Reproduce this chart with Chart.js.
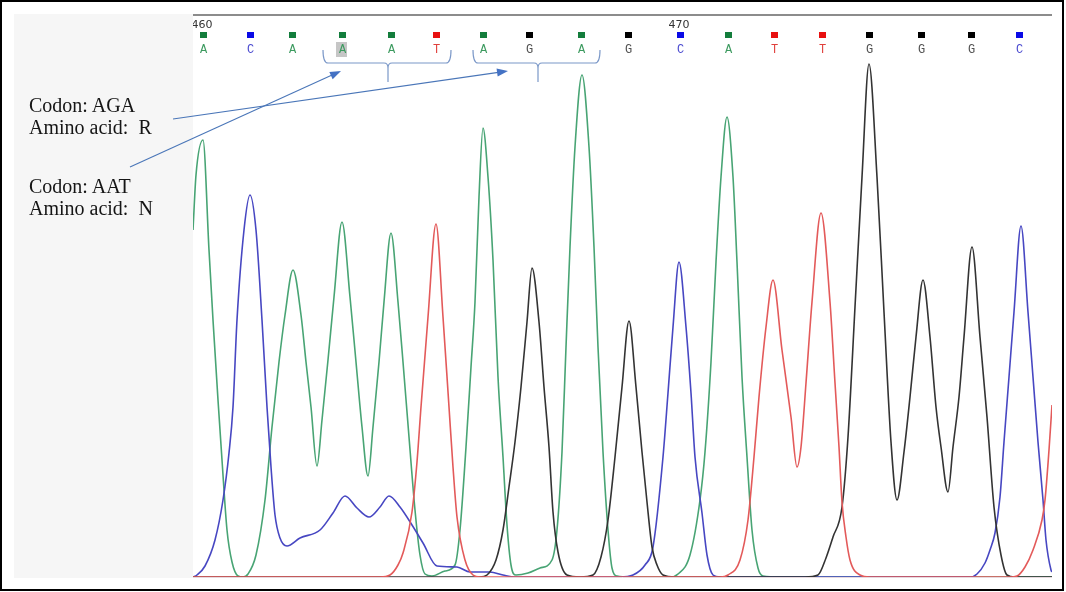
<!DOCTYPE html>
<html>
<head>
<meta charset="utf-8">
<script src="https://cdn.jsdelivr.net/npm/chart.js@4.4.1/dist/chart.umd.min.js"></script>
<style>
  html, body { margin: 0; padding: 0; background: #fff; }
  #page { position: relative; width: 1066px; height: 592px; overflow: hidden; }
  #panel { position: absolute; left: 14px; top: 14px; width: 179px; height: 564px; background: #f6f6f6; }
  #trace { position: absolute; left: 0; top: 0; }
  .note { position: absolute; left: 29px; font: 20px "Liberation Serif", "Times New Roman", serif; line-height: 22px; color: #151515; white-space: pre; }
  #frame { position: absolute; left: 0; top: 0; width: 1060px; height: 587px; border: 2px solid #000; pointer-events: none; }
</style>
</head>
<body>
<div id="page">
  <div id="panel"></div>
  <canvas id="trace" width="1066" height="592"></canvas>
  <div class="note" style="top:94px">Codon: AGA<br>Amino acid:  R</div>
  <div class="note" style="top:175px">Codon: AAT<br>Amino acid:  N</div>
  <div id="frame"></div>
</div>
<script>
// base calls (position 460 onwards) and the scan where each one was called
const firstBase = 460;
const baseCalls = ['A', 'C', 'A', 'A', 'A', 'T', 'A', 'G', 'A', 'G', 'C', 'A', 'T', 'T', 'G', 'G', 'G', 'C'];
const baseScans = [10, 57, 99, 149, 198, 243, 290, 336, 388, 435, 487, 535, 581, 629, 676, 728, 778, 826];
const tickEvery = 10;
const codonStarts = [3, 6]; // AAT (N), AGA (R)

// traces: [scan, signal]
const aTrace = [
  [0, 347], [3, 402], [10, 437], [16, 327], [20, 257], [25, 177], [29, 117], [34, 47], [39, 15], [45, 1],
  [50, 0], [55, 3], [63, 22], [72, 77], [79, 150], [86, 215], [92, 262], [100, 307], [108, 262], [113, 215],
  [118, 170], [124, 111], [129, 157], [135, 217], [141, 280], [149, 355], [157, 280], [163, 215], [169, 150],
  [175, 101], [180, 150], [186, 215], [191, 275], [198, 344], [205, 275], [210, 215], [216, 140], [222, 67],
  [227, 22], [232, 3], [239, 1], [252, 6], [262, 12], [267, 47], [273, 130], [278, 210], [282, 275],
  [286, 380], [290, 449], [295, 400], [300, 317], [305, 200], [310, 120], [314, 52], [318, 12], [323, 2],
  [335, 4], [347, 9], [359, 17], [364, 47], [369, 125], [373, 230], [377, 330], [382, 430], [389, 502],
  [396, 430], [401, 330], [405, 230], [410, 125], [415, 47], [419, 9], [424, 1], [437, 0], [477, 0],
  [485, 3], [497, 22], [507, 77], [512, 125], [518, 215], [523, 315], [528, 400], [534, 460], [540, 400],
  [544, 315], [549, 200], [554, 120], [559, 47], [565, 9], [570, 1], [587, 0], [859, 0]
];
const cTrace = [
  [0, 0], [4, 2], [12, 11], [22, 37], [30, 77], [36, 124], [40, 170], [44, 257], [51, 347], [57, 382],
  [63, 347], [69, 257], [74, 170], [78, 110], [82, 62], [87, 39], [94, 31], [107, 39], [127, 47], [140, 64],
  [152, 81], [164, 69], [176, 60], [187, 70], [196, 81], [207, 70], [219, 52], [230, 34], [244, 11],
  [264, 10], [277, 5], [297, 5], [310, 2], [322, 0], [427, 0], [440, 2], [452, 12], [460, 30], [470, 120],
  [475, 184], [480, 250], [486, 315], [493, 250], [498, 184], [502, 120], [509, 64], [514, 22], [520, 2],
  [527, 0], [777, 0], [784, 3], [792, 14], [797, 27], [802, 44], [807, 80], [811, 135], [816, 200],
  [821, 265], [828, 351], [835, 265], [840, 200], [845, 135], [850, 77], [853, 37], [858, 7], [859, 5]
];
const gTrace = [
  [0, 0], [287, 0], [294, 2], [303, 17], [310, 47], [316, 90], [322, 135], [328, 190], [334, 255], [339, 309],
  [346, 255], [351, 190], [356, 130], [360, 65], [365, 25], [374, 2], [387, 0], [400, 2], [408, 20],
  [415, 57], [422, 120], [429, 190], [436, 256], [443, 190], [449, 125], [454, 75], [459, 30], [464, 12],
  [470, 2], [482, 0], [612, 0], [625, 2], [633, 19], [640, 40], [649, 70], [655, 140], [662, 270],
  [669, 400], [676, 513], [684, 400], [691, 265], [698, 135], [704, 77], [711, 125], [717, 180], [723, 240],
  [730, 297], [737, 240], [743, 170], [748, 130], [755, 85], [760, 130], [766, 180], [771, 240], [779, 330],
  [787, 240], [794, 160], [801, 70], [808, 22], [814, 2], [822, 0], [859, 0]
];
const tTrace = [
  [0, 0], [187, 0], [197, 2], [205, 12], [210, 24], [219, 65], [224, 115], [228, 170], [235, 260], [243, 353],
  [250, 260], [256, 170], [260, 110], [264, 60], [272, 17], [280, 2], [287, 0], [527, 0], [535, 2], [547, 17],
  [555, 57], [561, 120], [566, 180], [573, 250], [580, 297], [589, 227], [598, 160], [604, 110],
  [608, 130], [613, 194], [619, 275], [628, 364], [637, 275], [642, 194], [646, 130], [649, 75], [653, 40],
  [657, 17], [667, 2], [677, 0], [817, 0], [824, 1], [832, 10], [840, 27], [849, 57], [852, 77], [856, 127],
  [859, 172]
];

const traceColor = { A: '#48a474', C: '#4747c2', G: '#333333', T: '#e35a5a' };
const boxColor = { A: '#137d3c', C: '#0a0ae6', G: '#000000', T: '#e81010' };
const letterColor = { A: '#3c9a5f', C: '#4b4bd0', G: '#505050', T: '#e0403c' };

function traceSet(base, pts) {
  return {
    label: base,
    data: pts.map(p => ({ x: p[0], y: p[1] })),
    borderColor: traceColor[base],
    borderWidth: 1.6,
    pointRadius: 0,
    fill: false,
    cubicInterpolationMode: 'monotone',
    clip: 0
  };
}

function drawArrow(ctx, x0, y0, x1, y1) {
  const a = Math.atan2(y1 - y0, x1 - x0);
  const c = Math.cos(a), s = Math.sin(a);
  ctx.beginPath();
  ctx.moveTo(x0, y0);
  ctx.lineTo(x1 - 8 * c, y1 - 8 * s);
  ctx.stroke();
  ctx.beginPath();
  ctx.moveTo(x1, y1);
  ctx.lineTo(x1 - 11 * c + 4 * s, y1 - 11 * s - 4 * c);
  ctx.lineTo(x1 - 11 * c - 4 * s, y1 - 11 * s + 4 * c);
  ctx.closePath();
  ctx.fill();
}

function drawBrace(ctx, left, right, mid, yTop, yBar, yTip) {
  ctx.beginPath();
  ctx.moveTo(left, yTop);
  ctx.quadraticCurveTo(left, yBar, left + 5, yBar);
  ctx.lineTo(mid - 4, yBar);
  ctx.quadraticCurveTo(mid, yBar, mid, yBar + 5);
  ctx.lineTo(mid, yTip);
  ctx.moveTo(mid, yBar + 5);
  ctx.quadraticCurveTo(mid, yBar, mid + 4, yBar);
  ctx.lineTo(right - 5, yBar);
  ctx.quadraticCurveTo(right, yBar, right, yTop);
  ctx.stroke();
}

const chromaPlugin = {
  id: 'chroma',
  beforeDatasetsDraw(chart) {
    const { ctx, chartArea: a, scales: { y } } = chart;
    ctx.save();
    ctx.strokeStyle = '#8c8c8c';
    ctx.lineWidth = 2;
    ctx.beginPath();
    ctx.moveTo(a.left, a.top - 1);
    ctx.lineTo(a.right, a.top - 1);
    ctx.stroke();
    const y0 = Math.round(y.getPixelForValue(0)) + 0.5;
    ctx.strokeStyle = '#e6d9de';
    ctx.lineWidth = 1;
    ctx.beginPath();
    ctx.moveTo(a.left, y0);
    ctx.lineTo(a.right, y0);
    ctx.stroke();
    ctx.restore();
  },
  afterDatasetsDraw(chart) {
    const { ctx, chartArea: a, scales: { x } } = chart;
    const px = i => Math.round(x.getPixelForValue(baseScans[i]));
    ctx.save();

    // highlighted call
    const hx = px(codonStarts[0]);
    ctx.fillStyle = '#c6c6c6';
    ctx.fillRect(hx - 6, a.top + 26, 11, 15);

    ctx.textAlign = 'center';
    ctx.textBaseline = 'middle';
    baseCalls.forEach((b, i) => {
      const bx = px(i);
      ctx.fillStyle = boxColor[b];
      ctx.fillRect(bx - 3, a.top + 16, 7, 6);
      ctx.fillStyle = letterColor[b];
      ctx.font = '12px "Liberation Mono", "DejaVu Sans Mono", monospace';
      ctx.fillText(b, bx + 0.5, a.top + 34);
    });

    // position ticks, clipped to the trace panel
    ctx.save();
    ctx.beginPath();
    ctx.rect(a.left, 0, a.right - a.left, a.bottom);
    ctx.clip();
    ctx.fillStyle = '#333';
    ctx.font = '11px "DejaVu Sans", sans-serif';
    baseCalls.forEach((b, i) => {
      const n = firstBase + i;
      if (n % tickEvery === 0) ctx.fillText(String(n), px(i) - 1, a.top + 9);
    });
    ctx.restore();

    // codon braces
    ctx.strokeStyle = '#7b98c8';
    ctx.lineWidth = 1.2;
    codonStarts.forEach((s, k) => {
      const left = px(s) - (k === 0 ? 19 : 10);
      const right = px(s + 2) + (k === 0 ? 15 : 19);
      const mid = Math.round((left + right) / 2) + 1;
      drawBrace(ctx, left, right, mid, a.top + 34, a.top + 47, a.top + 66);
    });

    // callout arrows from the notes
    ctx.strokeStyle = '#4a76b8';
    ctx.fillStyle = '#4472c4';
    ctx.lineWidth = 1.1;
    drawArrow(ctx, 130, 167, 341, 71);
    drawArrow(ctx, 173, 119, 508, 71);

    ctx.restore();
  }
};

new Chart(document.getElementById('trace'), {
  type: 'line',
  data: {
    datasets: [
      traceSet('T', tTrace),
      traceSet('G', gTrace),
      traceSet('C', cTrace),
      traceSet('A', aTrace)
    ]
  },
  options: {
    responsive: false,
    animation: false,
    events: [],
    layout: { padding: { left: 193, right: 14, top: 16, bottom: 15 } },
    scales: {
      x: { type: 'linear', min: 0, max: 859, display: false },
      y: { min: 0, max: 561, display: false }
    },
    plugins: { legend: { display: false }, tooltip: { enabled: false } }
  },
  plugins: [chromaPlugin]
});
</script>
</body>
</html>
